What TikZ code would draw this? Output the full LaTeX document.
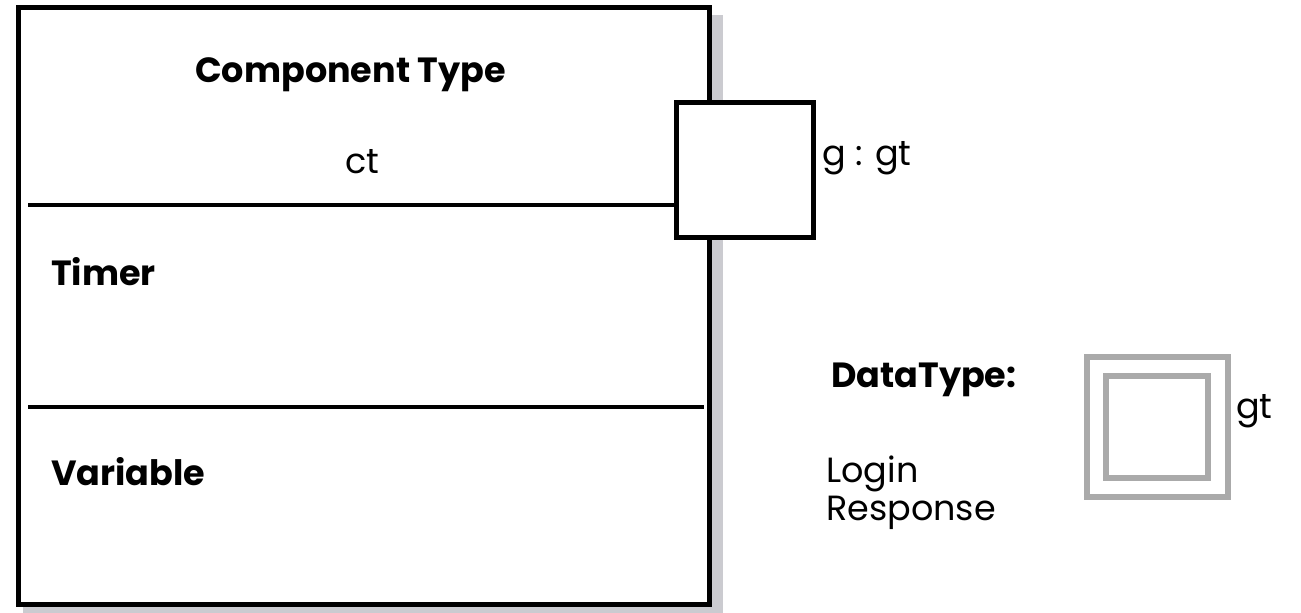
\documentclass[tikz,border=0pt]{standalone}
\usepackage{fontspec}
\setmainfont{Poppins}
\definecolor{shadowgray}{RGB}{203,203,208}
\definecolor{typegray}{RGB}{170,170,170}
\begin{document}
\begin{tikzpicture}[x=1pt,y=-1pt,
  shadowbox/.style={fill=shadowgray,draw=none,inner sep=0pt,outer sep=0pt},
  compbox/.style={draw=black,line width=5pt,fill=white,inner sep=0pt,outer sep=0pt},
  portbox/.style={draw=black,line width=5pt,fill=white,inner sep=0pt,outer sep=0pt,
    minimum width=137pt,minimum height=135pt},
  typebox/.style={draw=typegray,line width=6pt,fill=white,inner sep=0pt,outer sep=0pt},
  sepline/.style={line width=4.5pt},
  heading/.style={font=\bfseries\fontsize{35}{42}\selectfont,inner sep=0pt},
  plain/.style={font=\fontsize{35}{42}\selectfont,inner sep=0pt}]
\useasboundingbox (0,0) rectangle (1301,613);

% drop shadow behind the component box
\node[shadowbox,minimum width=700pt,minimum height=598pt,anchor=north west] (shadow) at (23,15) {};
% component box
\node[compbox,minimum width=691pt,minimum height=596.5pt,anchor=north west] (comp) at (18.5,7.5) {};

% port on the right edge
\node[portbox] (port) at (745,170) {};

% compartment separators
\coordinate (s1) at (28,205);
\coordinate (s2a) at (28,407);
\coordinate (s2b) at (704,407);
\draw[sepline] (s1) -- (s1 -| port.west);
\draw[sepline] (s2a) -- (s2b);

% compartment texts
\node[heading,anchor=base] (ctitle) at (350.5,82) {Component Type};
\node[plain,anchor=base] (ctname) at (362,173) {ct};
\node[heading,anchor=base west] (timer) at (51,285) {Timer};
\node[heading,anchor=base west] (var) at (51,485) {Variable};

% port label
\node[plain,anchor=base west] (portlbl) at (822,165) {g : gt};

% data type legend
\node[heading,anchor=base west] (dtitle) at (831,387) {DataType:};
\node[plain,anchor=base west] (login) at (826,482) {Login};
\node[plain,anchor=base west] (resp) at (826,520) {Response};

\node[typebox,minimum width=141pt,minimum height=140pt] (tout) at (1157.5,427) {};
\node[typebox,minimum width=102pt,minimum height=101.5pt] (tin) at (1157,426.75) {};
\node[plain,anchor=base west] (tlbl) at (1236,418) {gt};
\end{tikzpicture}
\end{document}
